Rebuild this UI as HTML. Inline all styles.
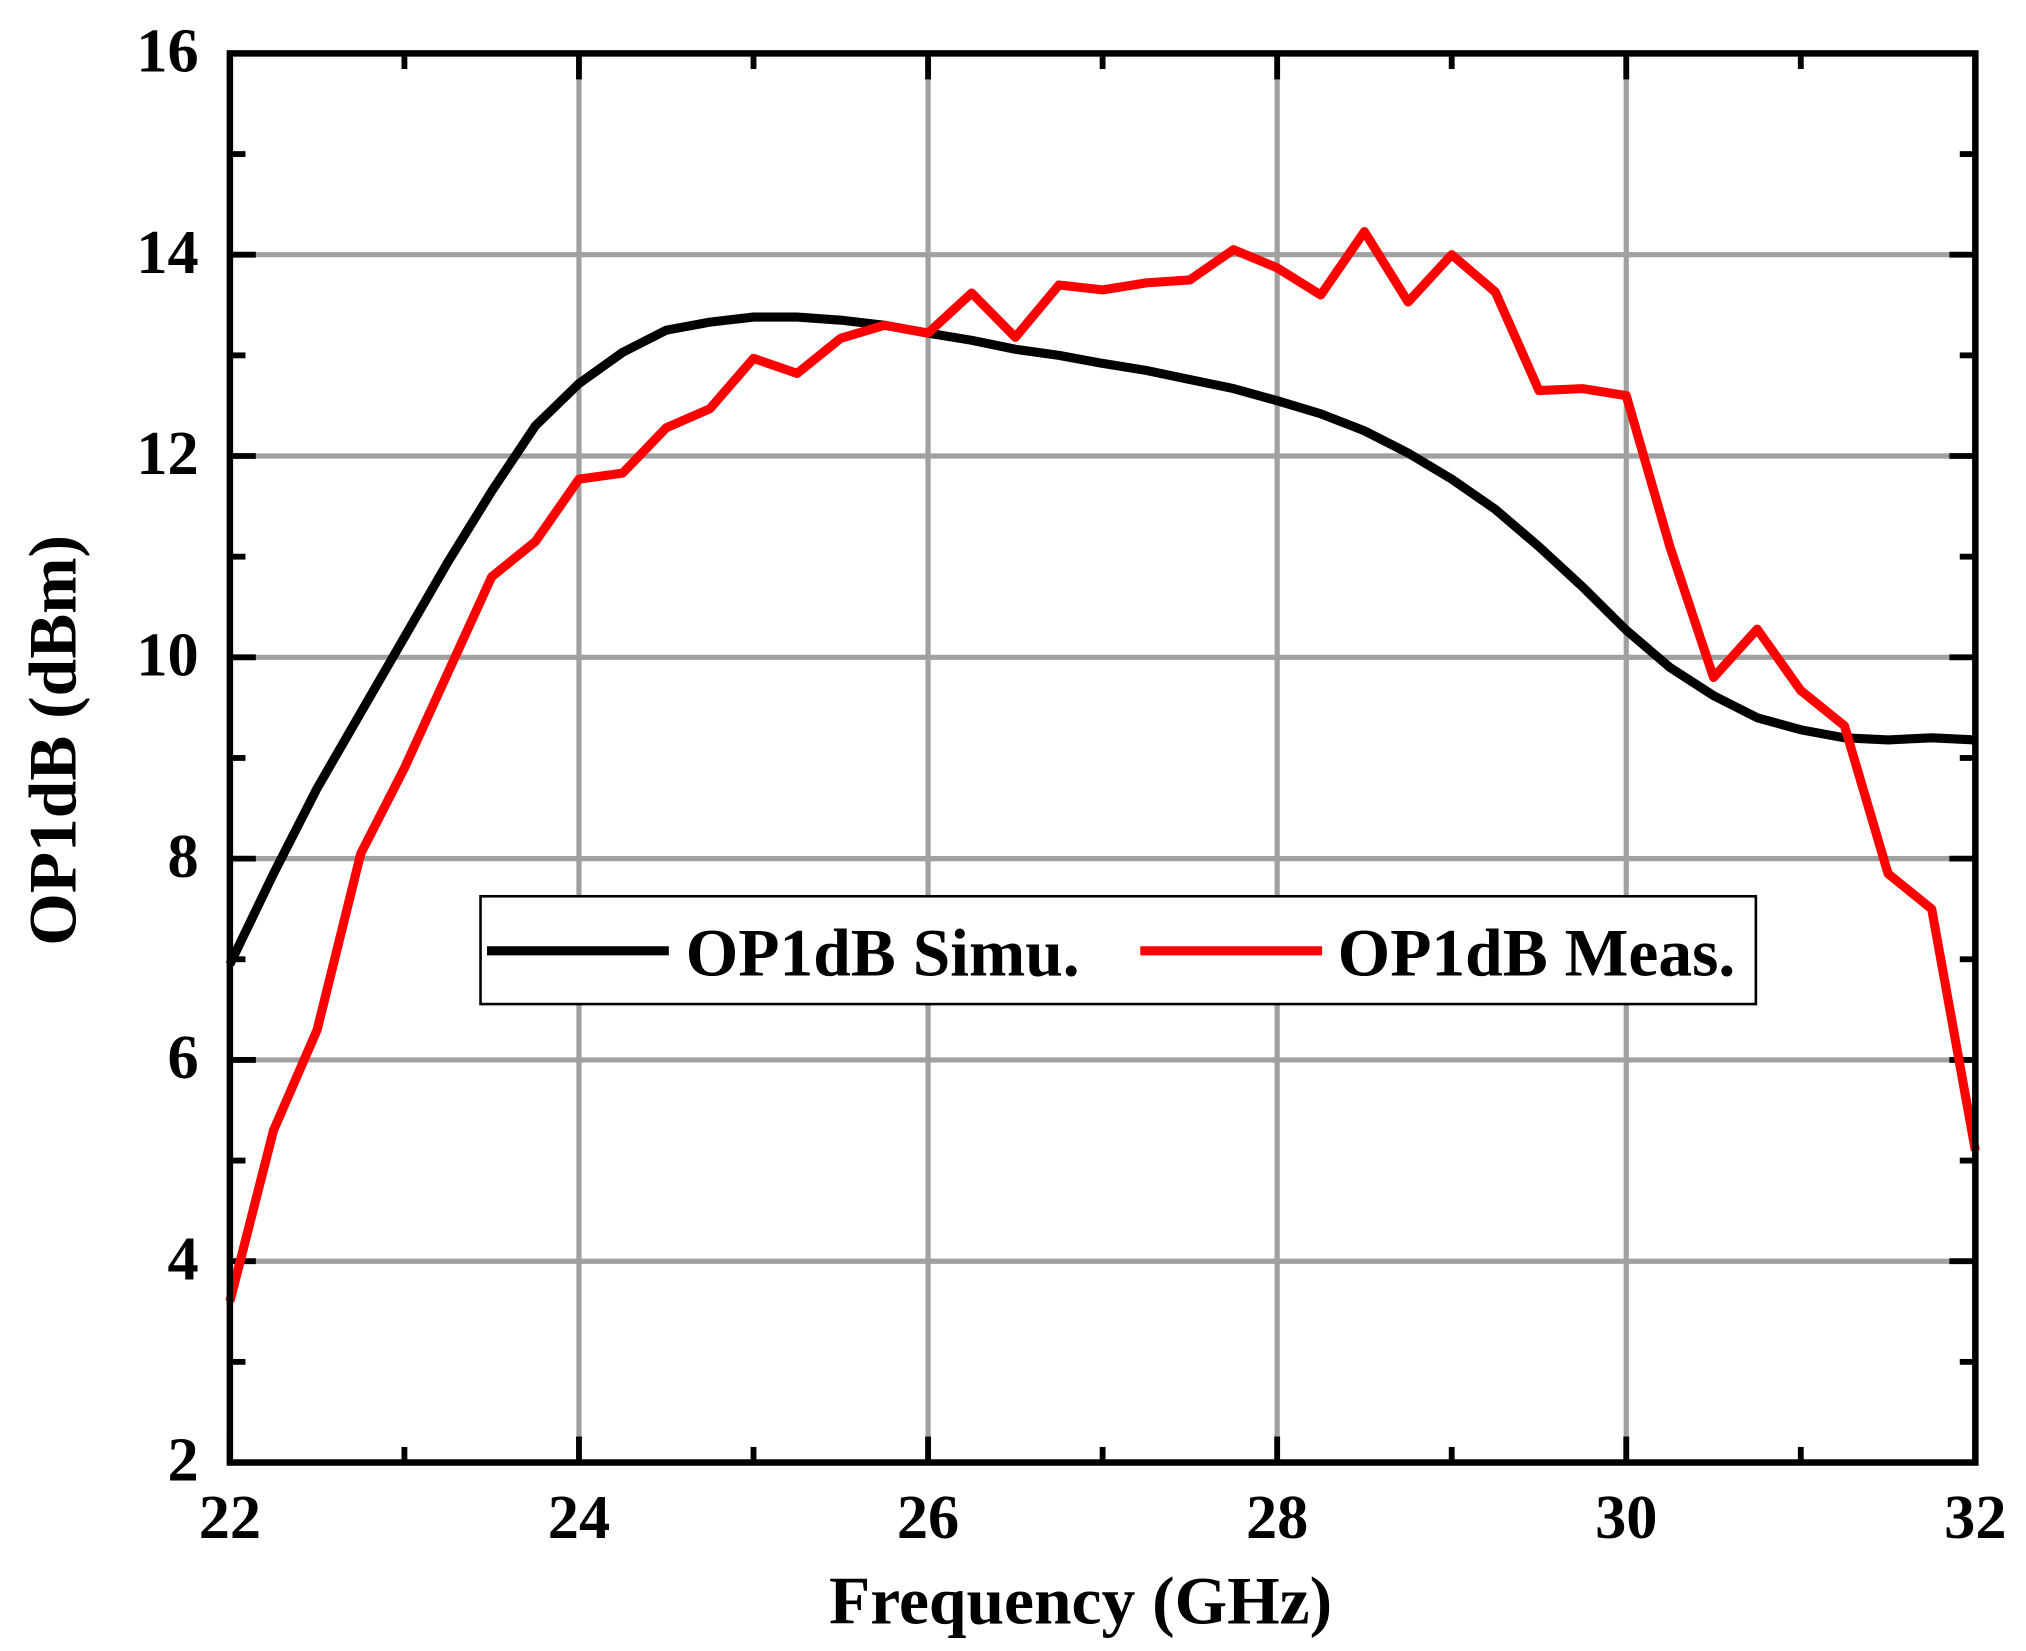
<!DOCTYPE html>
<html><head><meta charset="utf-8"><style>
html,body{margin:0;padding:0;background:#fff;}
svg{display:block;}
text{font-family:"Liberation Serif",serif;font-weight:bold;fill:#000;}
</style></head><body>
<svg id="s" width="2026" height="1651" viewBox="0 0 1560 1271" xmlns="http://www.w3.org/2000/svg">
<g id="grid" stroke="#a0a0a0" stroke-width="4"></g>
<g id="ticks" stroke="#000" stroke-width="4.5"></g>
<polyline id="blk" fill="none" stroke="#000" stroke-width="7" stroke-linejoin="round"/>
<polyline id="red" fill="none" stroke="#ff0000" stroke-width="7" stroke-linejoin="round"/>
<rect x="177" y="41" width="1344" height="1085" fill="none" stroke="#000" stroke-width="5"/>
<g id="lbl" font-size="48"></g>
<text x="832" y="1250" font-size="52" text-anchor="middle">Frequency (GHz)</text>
<text transform="translate(58,570) rotate(-90)" font-size="52" text-anchor="middle">OP1dB (dBm)</text>
<rect x="370" y="690" width="982" height="83" fill="#fff" stroke="#000" stroke-width="2"/>
<line x1="375" y1="732" x2="515" y2="732" stroke="#000" stroke-width="7"/>
<text x="528" y="751" font-size="52">OP1dB Simu.</text>
<line x1="878" y1="732" x2="1018" y2="732" stroke="#ff0000" stroke-width="7"/>
<text x="1030" y="751" font-size="52">OP1dB Meas.</text>
</svg>
<script>
var X=f=>177+(f-22)*134.4, Y=v=>1126-(v-2)*77.5;
var g=document.getElementById('grid'),t=document.getElementById('ticks'),l=document.getElementById('lbl');
var ns='http://www.w3.org/2000/svg';
function ln(p,a,b,c,d){var e=document.createElementNS(ns,'line');e.setAttribute('x1',a);e.setAttribute('y1',b);e.setAttribute('x2',c);e.setAttribute('y2',d);p.appendChild(e);}
function tx(x,y,s,a){var e=document.createElementNS(ns,'text');e.setAttribute('x',x);e.setAttribute('y',y);e.setAttribute('text-anchor',a);e.textContent=s;l.appendChild(e);}
for(var f=22;f<=32;f++){var x=X(f);var maj=f%2==0;
 if(maj&&f>22&&f<32)ln(g,x,41,x,1126);
 var L=maj?20:12;ln(t,x,1126,x,1126-L);ln(t,x,41,x,41+L);
 if(maj)tx(x,1184,String(f),'middle');}
for(var v=2;v<=16;v++){var y=Y(v);var maj=v%2==0;
 if(maj&&v>2&&v<16)ln(g,177,y,1521,y);
 var L=maj?20:12;ln(t,177,y,177+L,y);ln(t,1521,y,1521-L,y);
 if(maj)tx(153,y+14,String(v),'end');}
var b=[6.95,7.85,8.7,9.45,10.2,10.95,11.65,12.3,12.72,13.03,13.25,13.33,13.38,13.38,13.35,13.3,13.22,13.15,13.06,13.0,12.92,12.85,12.76,12.67,12.55,12.42,12.25,12.03,11.77,11.47,11.1,10.7,10.27,9.9,9.62,9.4,9.28,9.2,9.18,9.2,9.18];
var r=[3.6,5.3,6.3,8.05,8.9,9.85,10.8,11.15,11.77,11.83,12.28,12.47,12.97,12.82,13.17,13.3,13.22,13.62,13.18,13.7,13.65,13.72,13.75,14.05,13.87,13.6,14.23,13.53,14.0,13.63,12.65,12.67,12.6,11.1,9.8,10.28,9.67,9.32,7.85,7.5,5.1];
function pts(a){return a.map((v,i)=>X(22+i*0.25).toFixed(1)+','+Y(v).toFixed(1)).join(' ');}
document.getElementById('blk').setAttribute('points',pts(b));
document.getElementById('red').setAttribute('points',pts(r));
</script>
</body></html>
